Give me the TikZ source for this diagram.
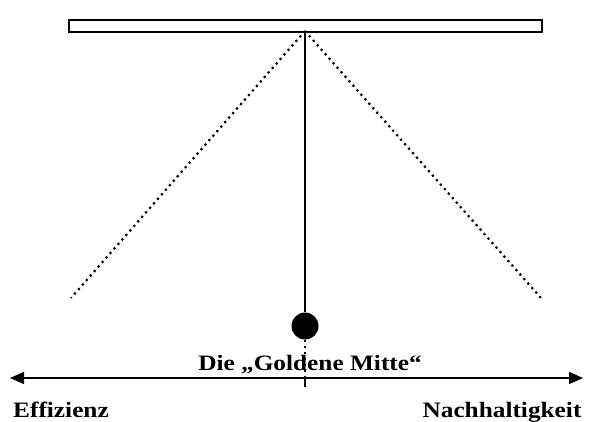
\documentclass[tikz,border=0pt]{standalone}
\usepackage{fontspec}
\setmainfont{Liberation Serif}
\usetikzlibrary{arrows.meta}
\tikzset{
  lbl/.style={font=\fontsize{22}{26}\selectfont\bfseries, inner sep=0pt, anchor=base, xscale=1.15},
  dots/.style={line width=2.2pt, dash pattern=on 2.2pt off 3.8pt},
  axis/.style={line width=1.6pt, {Triangle[length=14pt,width=12pt]}-{Triangle[length=14pt,width=12pt]}}
}
\begin{document}
\begin{tikzpicture}[x=1pt,y=-1pt]
\useasboundingbox (0,0) rectangle (594,422);
\node[draw, line width=1.6pt, minimum width=473pt, minimum height=12pt, inner sep=0pt, anchor=north west] (bar) at (68,19) {};
\coordinate (pivot) at (305,31);
\coordinate (lend) at (71,298);
\coordinate (rend) at (541,298);
\node[circle, fill=black, minimum size=27pt, inner sep=0pt] (ball) at (305,326) {};
\coordinate (axl) at (10,378);
\coordinate (axr) at (583,378);
\coordinate (axm) at (305,378);
\coordinate (tick) at (305,387);
\draw[dots] (pivot) -- (lend);
\draw[dots] (pivot) -- (rend);
\draw[line width=1.2pt] (pivot) -- (ball.north);
\draw[dots] (pivot) -- (ball.north);
\draw[dots] (ball.south) -- (axm);
\draw[line width=1.6pt] (axm) -- (tick);
\draw[axis] (axl) -- (axr);
\node[lbl] (mid) at (310,370) {Die „Goldene Mitte“};
\node[lbl] (eff) at (61,417) {Effizienz};
\node[lbl] (nach) at (502,417) {Nachhaltigkeit};
\end{tikzpicture}
\end{document}
